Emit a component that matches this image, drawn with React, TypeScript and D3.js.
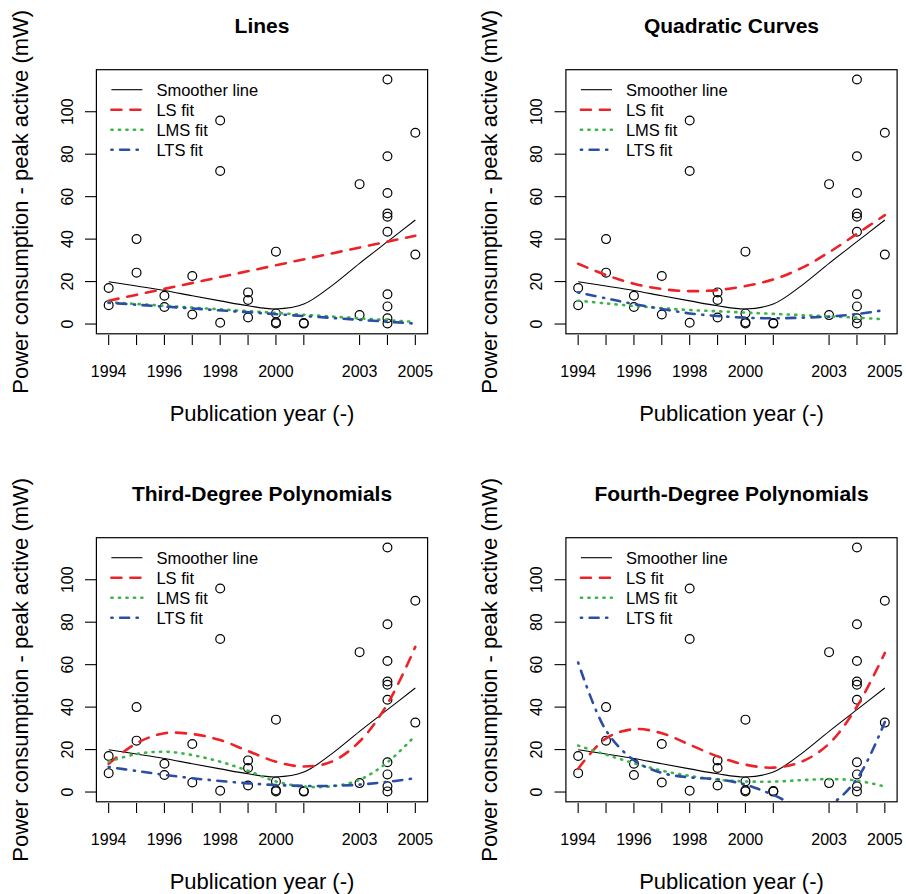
import React from "react";
import * as d3 from "d3";

const YEARS = [1994, 1995, 1996, 1997, 1998, 1999, 2000, 2001, 2002, 2003, 2004, 2005];
const TICK_YEARS = [1994, 1995, 1996, 1997, 1998, 1999, 2000, 2001, 2003, 2004, 2005];
const LABEL_YEARS = [1994, 1996, 1998, 2000, 2003, 2005];
const Y_TICKS = [0, 20, 40, 60, 80, 100];

const POINT_YEARS = [
  1994, 1994, 1995, 1995, 1996, 1996, 1997, 1997,
  1998, 1998, 1998, 1999, 1999, 1999,
  2000, 2000, 2000, 2000, 2001, 2001, 2003, 2003,
  2004, 2004, 2004, 2004, 2004, 2004, 2004, 2004, 2004, 2004,
  2005, 2005,
];
const POINT_VALUES = [
  17.0, 8.9, 40.0, 24.2, 13.3, 8.0, 22.6, 4.5,
  95.9, 72.1, 0.6, 14.9, 11.3, 3.1,
  34.1, 5.0, 0.3, 0.8, 0.2, 0.5, 65.9, 4.2,
  115.2, 79.0, 61.7, 52.1, 50.5, 43.5, 14.0, 8.3, 2.7, 0.3,
  90.1, 32.7,
];

const SMOOTHER = [19.9, 17.9, 15.8, 13.3, 10.9, 8.6, 7.1, 9.4, 18.0, 28.6, 38.8, 49.0];

const LINE_YEARS = [1994, 2005];
const LINE_LS = [11.0, 41.6];
const LINE_LMS = [10.3, 1.0];
const LINE_LTS = [10.0, 0.2];

const QUAD_LS = [28.4, 23.1, 19.0, 16.5, 15.5, 16.0, 17.9, 21.0, 26.3, 33.8, 42.5, 51.3];
const QUAD_LMS = [11.0, 9.7, 8.5, 7.5, 6.6, 6.0, 5.4, 4.8, 4.2, 3.6, 3.0, 2.2];
const QUAD_LTS = [14.9, 12.1, 9.4, 7.1, 5.0, 3.8, 3.0, 2.7, 3.0, 3.5, 4.7, 6.6];

const CUBIC_LS = [13.3, 23.0, 27.7, 27.3, 24.5, 19.3, 14.3, 12.0, 14.3, 23.8, 41.5, 68.4];
const CUBIC_LMS = [14.3, 17.9, 19.0, 17.4, 14.3, 10.0, 5.0, 2.6, 2.7, 5.8, 14.0, 26.6];
const CUBIC_LTS = [11.8, 9.9, 8.1, 6.5, 5.2, 4.1, 3.3, 2.9, 2.9, 3.5, 4.8, 6.5];

const QUART_LS = [11.0, 25.3, 29.6, 27.7, 22.3, 16.8, 12.9, 11.5, 14.2, 22.8, 40.3, 65.5];
const QUART_LMS = [21.9, 17.6, 13.6, 10.1, 7.6, 5.8, 5.0, 4.9, 5.6, 6.1, 5.4, 2.6];
const QUART_LTS = [61.0, 29.0, 15.0, 9.0, 6.9, 6.0, 3.5, -1.4, -7.0, -6.0, 6.2, 33.0];

const TITLES = ["Lines", "Quadratic Curves", "Third-Degree Polynomials", "Fourth-Degree Polynomials"];
const LEGEND = ["Smoother line", "LS fit", "LMS fit", "LTS fit"];

const FONT = "'Liberation Sans', Arial, Helvetica, sans-serif";
const RED = "#ec2227";
const GREEN = "#3bb54a";
const BLUE = "#2a4ea3";

const STYLES = [
  { stroke: "#000", width: 1.1, dash: "", cap: "butt" },
  { stroke: RED, width: 2.6, dash: "10 9", cap: "round" },
  { stroke: GREEN, width: 2.6, dash: "1.2 6.3", cap: "round" },
  { stroke: BLUE, width: 2.6, dash: "1.2 7.5 9 7.5", cap: "round" },
];

type Fit = { xs: number[]; ys: number[] };

const PANELS: { title: string; fits: Fit[]; dx: number; dy: number }[] = [
  {
    title: TITLES[0], dx: 0, dy: 0,
    fits: [
      { xs: LINE_YEARS, ys: LINE_LS },
      { xs: LINE_YEARS, ys: LINE_LMS },
      { xs: LINE_YEARS, ys: LINE_LTS },
    ],
  },
  {
    title: TITLES[1], dx: 469.5, dy: 0,
    fits: [
      { xs: YEARS, ys: QUAD_LS },
      { xs: YEARS, ys: QUAD_LMS },
      { xs: YEARS, ys: QUAD_LTS },
    ],
  },
  {
    title: TITLES[2], dx: 0, dy: 468,
    fits: [
      { xs: YEARS, ys: CUBIC_LS },
      { xs: YEARS, ys: CUBIC_LMS },
      { xs: YEARS, ys: CUBIC_LTS },
    ],
  },
  {
    title: TITLES[3], dx: 469.5, dy: 468,
    fits: [
      { xs: YEARS, ys: QUART_LS },
      { xs: YEARS, ys: QUART_LMS },
      { xs: YEARS, ys: QUART_LTS },
    ],
  },
];

const x = d3.scaleLinear().domain([1993.56, 2005.44]).range([96.4, 427.6]);
const y = d3.scaleLinear().domain([-4.6, 119.8]).range([333.8, 69.7]);

function Panel({ title, fits, dx, dy, idx }: { title: string; fits: Fit[]; dx: number; dy: number; idx: number }) {
  const [x0, x1] = x.range();
  const [yb, yt] = y.range();
  const cx = (x0 + x1) / 2;
  const cy = (yb + yt) / 2;
  const clipId = `clip-${idx}`;
  const line = d3
    .line<[number, number]>()
    .x((d) => x(d[0]))
    .y((d) => y(d[1]))
    .curve(d3.curveCatmullRom.alpha(0.5));
  const series: Fit[] = [{ xs: YEARS, ys: SMOOTHER }, ...fits];
  return (
    <g transform={`translate(${dx},${dy})`}>
      <defs>
        <clipPath id={clipId}>
          <rect x={x0} y={yt} width={x1 - x0} height={yb - yt} />
        </clipPath>
      </defs>
      <text x={cx} y={25} textAnchor="middle" dominantBaseline="central" fontWeight="bold" fontSize={21}>
        {title}
      </text>
      {/* x axis */}
      {TICK_YEARS.map((t) => (
        <line key={t} x1={x(t)} x2={x(t)} y1={335} y2={345} stroke="#000" strokeWidth={1.1} />
      ))}
      {LABEL_YEARS.map((t) => (
        <text key={t} x={x(t)} y={371} textAnchor="middle" dominantBaseline="central" fontSize={16}>
          {t}
        </text>
      ))}
      <text x={cx} y={413} textAnchor="middle" dominantBaseline="central" fontSize={22}>
        Publication year (-)
      </text>
      {/* y axis */}
      {Y_TICKS.map((t) => (
        <line key={t} x1={85} x2={x0} y1={y(t)} y2={y(t)} stroke="#000" strokeWidth={1.1} />
      ))}
      {Y_TICKS.map((t) => (
        <text
          key={t}
          transform={`translate(67,${y(t)}) rotate(-90)`}
          textAnchor="middle"
          dominantBaseline="central"
          fontSize={16}
        >
          {t}
        </text>
      ))}
      <text
        transform={`translate(20,${cy}) rotate(-90)`}
        textAnchor="middle"
        dominantBaseline="central"
        fontSize={22}
      >
        Power consumption - peak active (mW)
      </text>
      {/* plot region */}
      <g clipPath={`url(#${clipId})`}>
        {POINT_YEARS.map((yr, i) => (
          <circle key={i} cx={x(yr)} cy={y(POINT_VALUES[i])} r={4.4} fill="none" stroke="#000" strokeWidth={1.2} />
        ))}
        {series.map((s, i) => (
          <path
            key={i}
            d={line(s.xs.map((v, j) => [v, s.ys[j]] as [number, number])) || ""}
            fill="none"
            stroke={STYLES[i].stroke}
            strokeWidth={STYLES[i].width}
            strokeDasharray={STYLES[i].dash || undefined}
            strokeLinecap={STYLES[i].cap as any}
          />
        ))}
      </g>
      <rect x={x0} y={yt} width={x1 - x0} height={yb - yt} fill="none" stroke="#000" strokeWidth={1.2} />
      {/* legend */}
      {LEGEND.map((label, i) => {
        const ly = yt + 20 + i * 20;
        return (
          <g key={label}>
            <line
              x1={x0 + 15}
              x2={x0 + 46}
              y1={ly}
              y2={ly}
              stroke={STYLES[i].stroke}
              strokeWidth={STYLES[i].width}
              strokeDasharray={STYLES[i].dash || undefined}
              strokeLinecap={STYLES[i].cap as any}
            />
            <text x={x0 + 60} y={ly} dominantBaseline="central" fontSize={16.5}>
              {label}
            </text>
          </g>
        );
      })}
    </g>
  );
}

export default function App() {
  return (
    <svg
      width={906}
      height={894}
      style={{ position: "absolute", left: 0, top: 0, background: "#fff" }}
      fontFamily={FONT}
      fill="#000"
    >
      <rect width={906} height={894} fill="#fff" />
      {PANELS.map((p, i) => (
        <Panel key={i} idx={i} title={p.title} fits={p.fits} dx={p.dx} dy={p.dy} />
      ))}
    </svg>
  );
}
